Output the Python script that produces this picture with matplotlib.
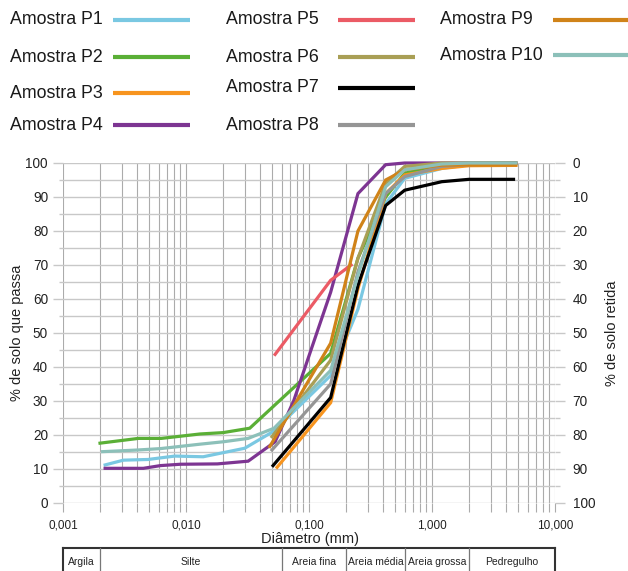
import matplotlib
matplotlib.use('Agg')
import matplotlib.pyplot as plt
from matplotlib.lines import Line2D
from matplotlib.ticker import FixedLocator, LogLocator, NullFormatter, MultipleLocator
import matplotlib.transforms as mtransforms

plt.rcParams['font.family'] = ['Liberation Sans', 'DejaVu Sans']

# ---------------- data ----------------
names = ['Amostra P1', 'Amostra P2', 'Amostra P3', 'Amostra P4', 'Amostra P5',
         'Amostra P6', 'Amostra P7', 'Amostra P8', 'Amostra P9', 'Amostra P10']
colors = ['#7ac8e2', '#5aaf36', '#f7941e', '#7d3592', '#eb5b65',
          '#a99f55', '#000000', '#959595', '#d08319', '#8cc0b9']

p1_x = [0.0022, 0.0031, 0.0049, 0.0081, 0.0138, 0.0177, 0.030, 0.051, 0.15, 0.25, 0.42, 0.6, 1.2, 2.0, 4.8]
p1_y = [11.2, 12.6, 12.8, 13.8, 13.6, 14.4, 16.1, 21.0, 37.5, 57.0, 88.0, 95.5, 98.4, 99.5, 100.0]

p2_x = [0.002, 0.0041, 0.0063, 0.013, 0.020, 0.033, 0.15, 0.25, 0.42, 0.6, 1.2, 2.0, 4.8]
p2_y = [17.6, 19.0, 19.0, 20.3, 20.7, 22.0, 44.0, 72.0, 90.0, 97.0, 99.5, 100.0, 100.0]

p3_x = [0.055, 0.15, 0.25, 0.42, 0.6, 1.2, 2.0, 4.8]
p3_y = [10.5, 29.5, 63.0, 91.0, 96.5, 98.4, 99.2, 99.3]

p4_x = [0.0022, 0.0045, 0.0062, 0.009, 0.018, 0.032, 0.053, 0.075, 0.15, 0.25, 0.42, 0.6, 1.2, 2.0, 4.8]
p4_y = [10.2, 10.2, 11.0, 11.4, 11.5, 12.3, 18.0, 30.0, 62.0, 91.0, 99.5, 100.0, 100.0, 100.0, 100.0]

p5_x = [0.053, 0.15, 0.22]
p5_y = [43.7, 65.5, 70.0]

p6_x = [0.050, 0.15, 0.25, 0.42, 0.6, 1.2, 2.0, 4.8]
p6_y = [19.5, 42.0, 72.0, 94.0, 99.0, 100.0, 100.0, 100.0]

p7_x = [0.051, 0.15, 0.25, 0.42, 0.6, 1.2, 2.0, 4.6]
p7_y = [11.0, 31.0, 64.0, 87.5, 92.0, 94.5, 95.2, 95.2]

p8_x = [0.050, 0.15, 0.25, 0.42, 0.6, 1.2, 2.0, 4.8]
p8_y = [15.6, 35.0, 68.0, 91.0, 96.0, 99.0, 99.5, 99.8]

p9_x = [0.048, 0.15, 0.25, 0.42, 0.6, 1.2, 2.0, 4.8]
p9_y = [16.6, 47.0, 80.0, 95.0, 98.0, 99.4, 99.4, 99.4]

p10_x = [0.0021, 0.0041, 0.0062, 0.013, 0.020, 0.032, 0.052, 0.15, 0.25, 0.42, 0.6, 1.2, 2.0, 4.8]
p10_y = [15.1, 15.6, 16.0, 17.3, 18.0, 19.0, 22.0, 39.0, 67.0, 93.0, 98.0, 99.7, 100.0, 100.0]

series_x = [p1_x, p2_x, p3_x, p4_x, p5_x, p6_x, p7_x, p8_x, p9_x, p10_x]
series_y = [p1_y, p2_y, p3_y, p4_y, p5_y, p6_y, p7_y, p8_y, p9_y, p10_y]

x_ticks = [0.001, 0.01, 0.1, 1.0, 10.0]
x_tick_labels = ['0,001', '0,010', '0,100', '1,000', '10,000']
y_ticks = [0, 10, 20, 30, 40, 50, 60, 70, 80, 90, 100]

class_edges = [0.001, 0.002, 0.06, 0.2, 0.6, 2.0, 10.0]
class_names = ['Argila', 'Silte', 'Areia fina', 'Areia média', 'Areia grossa', 'Pedregulho']

# ---------------- figure ----------------
W, H = 628, 571
fig = plt.figure(figsize=(W / 100, H / 100), dpi=100)
ax = fig.add_axes([63 / W, 1 - 503 / H, 492 / W, 340 / H])
ax.set_xscale('log')
ax.set_xlim(0.001, 10)
ax.set_ylim(0, 100)

vcol = '#ababab'
hcol = '#c8c8c8'
ax.xaxis.set_major_locator(FixedLocator(x_ticks))
ax.xaxis.set_minor_locator(LogLocator(base=10, subs=[2, 3, 4, 5, 6, 7, 8, 9], numticks=20))
ax.xaxis.set_minor_formatter(NullFormatter())
ax.set_xticklabels(x_tick_labels)
ax.yaxis.set_major_locator(FixedLocator(y_ticks))
ax.yaxis.set_minor_locator(MultipleLocator(5))

ax.grid(which='both', axis='x', color=vcol, lw=0.8)
ax.grid(which='both', axis='y', color=hcol, lw=1.0)
ax.set_axisbelow(True)
for s in ax.spines.values():
    s.set_visible(False)

ax.tick_params(axis='x', which='both', length=6.5, width=0.8, color=vcol,
               labelsize=8.5, pad=5.5, labelcolor='#222222')
ax.tick_params(axis='y', which='major', length=7.2, width=1.0, color=hcol,
               labelsize=9.8, pad=3.6, labelcolor='#222222')
ax.tick_params(axis='y', which='minor', length=2.9, width=1.0, color=hcol)

ax2 = ax.twinx()
ax2.set_ylim(100, 0)
ax2.yaxis.set_major_locator(FixedLocator(y_ticks))
ax2.yaxis.set_minor_locator(MultipleLocator(5))
for s in ax2.spines.values():
    s.set_visible(False)
ax2.tick_params(axis='y', which='major', length=7.2, width=1.0, color=hcol,
                labelsize=9.8, pad=5.5, labelcolor='#222222')
ax2.tick_params(axis='y', which='minor', length=3.6, width=1.0, color=hcol)

for xs, ys, c in zip(series_x, series_y, colors):
    ax.plot(xs, ys, color=c, lw=2.3, solid_joinstyle='miter', clip_on=False, zorder=3)

# axis labels
fig.text(17 / W, 1 - 333 / H, '% de solo que passa', rotation=90, ha='center', va='center',
         fontsize=10.5, color='#222222')
fig.text(612 / W, 1 - 333 / H, '% de solo retida', rotation=90, ha='center', va='center',
         fontsize=10.5, color='#222222')
fig.text(310 / W, 1 - 539 / H, 'Diâmetro (mm)', ha='center', va='center',
         fontsize=10.5, color='#222222')

# ---------------- legend (manual) ----------------
leg_cols = [(10, 113, 190), (226, 338, 415), (440, 553, 628)]
leg_rows = [[20, 57, 93, 125], [20, 57, 88, 125], [20, 55]]
k = 0
for (tx, l0, l1), rows in zip(leg_cols, leg_rows):
    for ry in rows:
        fig.text(tx / W, 1 - ry / H, names[k], ha='left', va='center', fontsize=12.8,
                 color='#1a1a1a')
        fig.add_artist(Line2D([l0 / W, l1 / W], [1 - ry / H, 1 - ry / H],
                              transform=fig.transFigure, color=colors[k], lw=3.0,
                              solid_capstyle='butt'))
        k += 1

# ---------------- classification table ----------------
bt = mtransforms.blended_transform_factory(ax.transData, fig.transFigure)
ytop = 1 - 548 / H
ybot = 0.0
fig.add_artist(Line2D([class_edges[0], class_edges[-1]], [ytop, ytop], transform=bt,
                      color='#333333', lw=1.5, clip_on=False))
for i, e in enumerate(class_edges):
    outer = (i == 0 or i == len(class_edges) - 1)
    fig.add_artist(Line2D([e, e], [ybot, ytop], transform=bt,
                          color='#333333' if outer else '#777777',
                          lw=1.5 if outer else 0.9, clip_on=False))
for i, nm in enumerate(class_names):
    xc = (class_edges[i] * class_edges[i + 1]) ** 0.5
    fig.text(xc, 1 - 562 / H, nm, transform=bt, ha='center', va='center',
             fontsize=7.5, color='#222222')

fig.savefig('out.png', dpi=100)
